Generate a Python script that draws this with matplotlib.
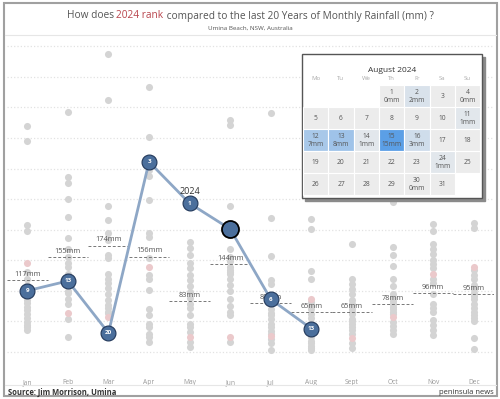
import matplotlib
matplotlib.use("Agg")
import matplotlib.pyplot as plt
from matplotlib.patches import Rectangle
from matplotlib.colors import LinearSegmentedColormap

plt.rcParams['font.family'] = ['Open Sans', 'DejaVu Sans']

# Months on the x axis
months = ["Jan", "Feb", "Mar", "Apr", "May", "Jun",
          "Jul", "Aug", "Sept", "Oct", "Nov", "Dec"]

# Monthly rainfall of the other years (mm), grey dots
jan = [369, 345, 208, 198, 130, 120, 110, 92, 85, 80, 74, 68, 62, 56, 49, 44, 40, 35]
feb = [392, 286, 276, 251, 220, 187, 169, 156, 145, 139, 128, 125, 100, 96, 87, 79, 53, 25]
mar = [487, 413, 239, 215, 194, 183, 158, 153, 128, 120, 112, 104, 95, 85, 77, 71, 66, 63]
apr = [434, 351, 298, 288, 249, 194, 188, 153, 126, 119, 101, 70, 60, 46, 41, 30, 25, 16]
may = [180, 170, 158, 145, 137, 125, 117, 107, 98, 88, 79, 71, 60, 46, 41, 33, 16, 8]
jun = [380, 371, 238, 168, 155, 148, 139, 134, 130, 128, 120, 109, 100, 86, 75, 66, 60, 16]
jul = [391, 219, 157, 117, 111, 82, 78, 70, 64, 60, 54, 45, 40, 34, 30, 21, 15, 3]
aug = [217, 201, 133, 119, 81, 75, 70, 62, 55, 48, 42, 29, 25, 18, 14, 10, 6, 3]
sep = [176, 119, 111, 103, 95, 85, 78, 70, 66, 62, 54, 50, 45, 40, 35, 30, 15, 7]
oct_ = [246, 172, 158, 140, 120, 107, 95, 88, 83, 79, 74, 70, 66, 62, 49, 42, 36, 30]
nov = [210, 197, 177, 168, 160, 150, 144, 137, 120, 112, 95, 79, 71, 65, 52, 44, 36, 27]
dec = [211, 202, 134, 126, 120, 110, 103, 96, 92, 87, 79, 71, 66, 60, 55, 50, 22, 5]
other_years = [jan, feb, mar, apr, may, jun, jul, aug, sep, oct_, nov, dec]

# Previous year (pink dots)
last_year = [145, 63, 57, 139, 25, 25, 26, 86, 23, 57, 128, 139]

# 2024 values and rank labels
rain_2024 = [100, 116, 31, 311, 243, 201, 86, 38]
rank_2024 = ["9", "13", "20", "3", "1", "", "6", "13"]

# Monthly average (dashed lines)
avg_mm = [117, 155, 174, 156, 83, 144, 80, 65, 65, 78, 96, 95]

# August 2024 daily rainfall (calendar)
aug_days = list(range(1, 32))
aug_rain_days = [1, 2, 4, 11, 12, 13, 14, 15, 16, 24, 30]
aug_rain_mm = [0, 2, 0, 1, 7, 8, 1, 15, 3, 1, 0]
week_days = ["Mo", "Tu", "We", "Th", "Fr", "Sa", "Su"]

GREY = "#d4d4d4"
PINK = "#ebc9cb"
BLUE = "#4b6f9c"
TXT = "#555555"

fig = plt.figure(figsize=(5, 3.99), dpi=100)


# Title with the red part in the middle
def draw_title():
    parts = [("How does ", TXT), ("2024 rank", "#b8434b"),
             (" compared to the last 20 Years of Monthly Rainfall (mm) ?", TXT)]
    rend = fig.canvas.get_renderer()
    texts = [fig.text(0, 1 - 16 / 399, s, color=c, fontsize=7.3, va="center")
             for s, c in parts]
    widths = [t.get_window_extent(rend).width for t in texts]
    x = (500 - sum(widths)) / 2
    for t, w in zip(texts, widths):
        t.set_x(x / 500)
        x += w
    fig.text(0.5, 1 - 28 / 399, "Umina Beach, NSW, Australia",
             fontsize=4.5, color=TXT, ha="center", va="center")


draw_title()

# Frame and separator lines
fig.patches.append(Rectangle((4 / 500, 3 / 399), 493 / 500, 393 / 399,
                             transform=fig.transFigure, fill=False,
                             edgecolor="#a0a0a0", lw=1.5))
fig.add_artist(plt.Line2D([5 / 500, 496 / 500], [1 - 35 / 399] * 2,
                          color="#e6e6e6", lw=0.8))
fig.add_artist(plt.Line2D([5 / 500, 496 / 500], [1 - 385 / 399] * 2,
                          color="#e6e6e6", lw=0.8))

# Main chart
ax = fig.add_axes([7 / 500, 1 - 372 / 399, 487 / 500, 336 / 399])
ax.set_xlim(-0.5, 11.5)
ax.set_ylim(-33, 517)
ax.set_yticks(range(0, 501, 50))
ax.yaxis.grid(True, color="#e2e2e2", linestyle=":", lw=0.9)
ax.set_axisbelow(True)
ax.set_yticklabels([])
ax.set_xticks(range(12))
ax.set_xticklabels(months, fontsize=4.8, color="#999999")
ax.tick_params(length=0, pad=5)
for s in ax.spines.values():
    s.set_visible(False)

for i, vals in enumerate(other_years):
    ax.scatter([i] * len(vals), vals, s=26, color=GREY, lw=0, zorder=2)
ax.scatter(range(12), last_year, s=26, color=PINK, lw=0, zorder=2)

# average lines with labels
for i, m in enumerate(avg_mm):
    ax.plot([i - 0.5, i + 0.5], [m, m], color="#777777", lw=0.7,
            dashes=(3, 2), zorder=3)
    ax.annotate(f"{m}mm", (i, m), xytext=(0, 1.5), textcoords="offset points",
                ha="center", va="bottom", fontsize=5.3, color=TXT, zorder=3)

# 2024 line
x24 = list(range(len(rain_2024)))
ax.plot(x24, rain_2024, color="#8ea7c6", lw=2, zorder=4)
for i, (v, r) in enumerate(zip(rain_2024, rank_2024)):
    if r == "":
        ax.scatter(i, v, s=150, color=BLUE, edgecolor="black", lw=1.3, zorder=5)
    else:
        ax.scatter(i, v, s=115, color=BLUE, edgecolor="#22385a", lw=0.8, zorder=5)
        ax.text(i, v, r, color="white", fontsize=4.5, ha="center",
                va="center", fontweight="bold", zorder=6)
ax.annotate("2024", (4, rain_2024[4]), xytext=(0, 5), textcoords="offset points",
            ha="center", va="bottom", fontsize=6.5, color="#333333", zorder=6)

# Footer
fig.text(8 / 500, 1 - 392 / 399, "Source: Jim Morrison, Umina", fontsize=5.5,
         fontweight="bold", color="#333333", va="center")
fig.text(494 / 500, 1 - 392 / 399, "peninsula news", fontsize=5.5,
         color="#333333", va="center", ha="right")

# Calendar for August 2024
cal = fig.add_axes([302 / 500, 1 - 198 / 399, 180 / 500, 144 / 399])
cal.set_xlim(0, 180)
cal.set_ylim(144, 0)
cal.axis("off")
cal.add_patch(Rectangle((3, 3), 180, 144, color="#8a8a8a", clip_on=False, zorder=0))
cal.add_patch(Rectangle((0, 0), 180, 144, facecolor="white", edgecolor="#555555",
                        lw=1, clip_on=False, zorder=1))
cal.text(90, 16, "August 2024", ha="center", va="center", fontsize=6,
         color="#333333", zorder=3)

cell_w, cell_h, top = 25.3, 22, 31
for c, d in enumerate(week_days):
    cal.text(1 + cell_w * (c + 0.5), 25, d, ha="center", va="center",
             fontsize=4.3, color="#aaaaaa", zorder=3)

cmap = LinearSegmentedColormap.from_list("rain", ["#ececec", "#5b9fe6"])
rain_by_day = dict(zip(aug_rain_days, aug_rain_mm))
for d in aug_days:
    k = d - 1 + 3
    row, col = k // 7, k % 7
    x0 = 1 + cell_w * col
    y0 = top + cell_h * row
    mm = rain_by_day.get(d)
    face = cmap(mm / 15) if mm is not None else "#ececec"
    cal.add_patch(Rectangle((x0, y0), cell_w, cell_h, facecolor=face,
                            edgecolor="white", lw=0.8, zorder=2))
    xc = x0 + cell_w / 2
    if mm is None:
        cal.text(xc, y0 + cell_h / 2, str(d), ha="center", va="center",
                 fontsize=4.8, color=TXT, zorder=3)
    else:
        cal.text(xc, y0 + cell_h * 0.32, str(d), ha="center", va="center",
                 fontsize=4.8, color=TXT, zorder=3)
        cal.text(xc, y0 + cell_h * 0.7, f"{mm}mm", ha="center", va="center",
                 fontsize=4.8, color=TXT, zorder=3)

fig.savefig("out.png", dpi=100)
